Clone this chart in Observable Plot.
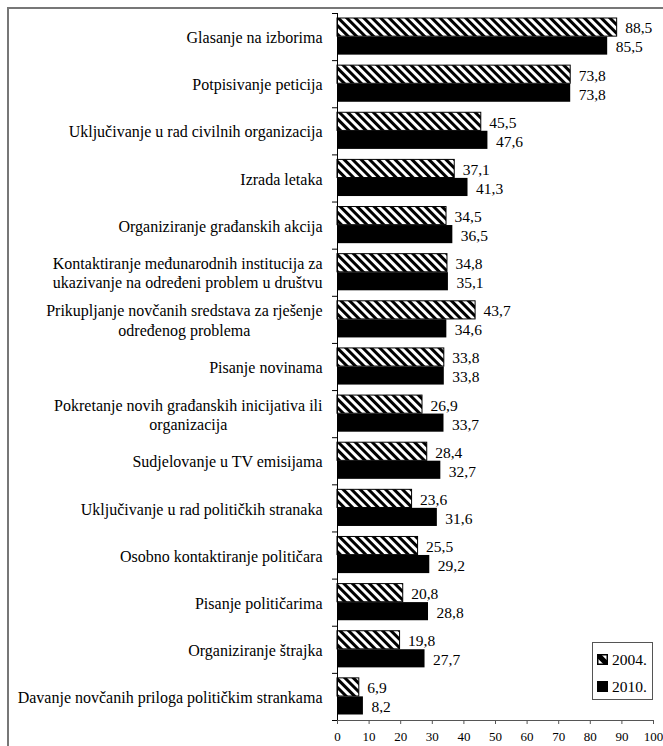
<!DOCTYPE html>
<html><head><meta charset="utf-8">
<script src="https://cdn.jsdelivr.net/npm/d3@7"></script>
<script src="https://cdn.jsdelivr.net/npm/@observablehq/plot@0.6"></script>
<style>
body{margin:0;background:#fff;font-family:'Liberation Serif';}
#wrap{position:relative;width:663px;height:746px;overflow:hidden;font-family:'Liberation Serif';}
#chart{position:absolute;left:0;top:0;}
#chart text{font-family:'Liberation Serif' !important;}
#frame{position:absolute;left:7px;top:7px;width:800px;height:900px;border-left:2px solid #777;border-top:2px solid #777;pointer-events:none;}
#legend{position:absolute;left:592px;top:642px;}
</style></head>
<body><div id="wrap"><div id="chart"></div><div id="frame"></div><div id="legend"></div></div>
<script>
const categories = [
  "Glasanje na izborima",
  "Potpisivanje peticija",
  "Uključivanje u rad civilnih organizacija",
  "Izrada letaka",
  "Organiziranje građanskih akcija",
  "Kontaktiranje međunarodnih institucija za\nukazivanje na određeni problem u društvu",
  "Prikupljanje novčanih sredstava za rješenje\nodređenog problema",
  "Pisanje novinama",
  "Pokretanje novih građanskih inicijativa ili\norganizacija",
  "Sudjelovanje u TV emisijama",
  "Uključivanje u rad političkih stranaka",
  "Osobno kontaktiranje političara",
  "Pisanje političarima",
  "Organiziranje štrajka",
  "Davanje novčanih priloga političkim strankama"
];
const values2004 = [88.5, 73.8, 45.5, 37.1, 34.5, 34.8, 43.7, 33.8, 26.9, 28.4, 23.6, 25.5, 20.8, 19.8, 6.9];
const values2010 = [85.5, 73.8, 47.6, 41.3, 36.5, 35.1, 34.6, 33.8, 33.7, 32.7, 31.6, 29.2, 28.8, 27.7, 8.2];
const seriesNames = ["2004.", "2010."];
const xTicks = [0, 10, 20, 30, 40, 50, 60, 70, 80, 90, 100];

const rows = categories.map((cat, i) => ({i, cat, v2004: values2004[i], v2010: values2010[i]}));
const fmt = v => v.toFixed(1).replace(".", ",");
const n = categories.length;
const FONT = "Liberation Serif";

const defs = () => {
  const d = d3.create("svg:defs");
  const p = d.append("pattern").attr("id", "hatch").attr("patternUnits", "userSpaceOnUse")
    .attr("width", 6).attr("height", 6).attr("patternTransform", "rotate(45)");
  p.append("rect").attr("width", 6).attr("height", 6).attr("fill", "#fff");
  p.append("rect").attr("width", 6).attr("height", 3).attr("fill", "#000");
  return d.node();
};

const chart = Plot.plot({
  width: 663, height: 746,
  marginLeft: 337, marginRight: 10, marginTop: 13, marginBottom: 26,
  style: {fontFamily: FONT, background: "transparent", color: "#000"},
  x: {domain: [0, 100], axis: null, label: null},
  y: {domain: [n, 0], axis: null, label: null},
  marks: [
    defs,
    Plot.rectX(rows, {x1: 0, x2: "v2004", y1: "i", y2: d => d.i + 1, insetTop: 5, insetBottom: 24,
      fill: "url(#hatch)", stroke: "#000", strokeWidth: 1}),
    Plot.rectX(rows, {x1: 0, x2: "v2010", y1: "i", y2: d => d.i + 1, insetTop: 23.5, insetBottom: 5.5, fill: "#000"}),
    Plot.ruleX([0], {stroke: "#000"}),
    Plot.ruleY([n], {stroke: "#555"}),
    Plot.axisY(d3.range(n + 1), {tickSize: 5, fill: "none", stroke: "#000", label: null}),
    Plot.text(rows, {x: "v2004", y: d => d.i + 0.5, text: d => fmt(d.v2004), textAnchor: "start", dx: 8, dy: -8.6, fontSize: 15.5, fontFamily: FONT}),
    Plot.text(rows, {x: "v2010", y: d => d.i + 0.5, text: d => fmt(d.v2010), textAnchor: "start", dx: 8, dy: 10.4, fontSize: 15.5, fontFamily: FONT}),
    Plot.text(rows, {x: 0, y: d => d.i + 0.5, text: "cat", textAnchor: "end", dx: -15, fontSize: 16, lineHeight: 1.2, fontFamily: FONT}),
    Plot.axisX(xTicks, {tickSize: 4, tickPadding: 7, fontSize: 13, stroke: "#555", fontFamily: FONT, label: null})
  ]
});
document.getElementById("chart").append(chart);

// center lines of multi-line labels within their right-aligned block
d3.select(chart).selectAll("text").each(function() {
  const spans = this.querySelectorAll("tspan");
  if (spans.length < 2) return;
  const w = d3.max(Array.from(spans), s => s.getComputedTextLength());
  this.setAttribute("text-anchor", "middle");
  spans.forEach(s => s.setAttribute("x", -w / 2));
});

// legend
const lg = d3.select("#legend").append("svg").attr("width", 62).attr("height", 59)
  .attr("font-family", FONT);
lg.append("rect").attr("x", 0.5).attr("y", 0.5).attr("width", 60).attr("height", 57)
  .attr("fill", "#fff").attr("stroke", "#555");
const items = lg.selectAll("g").data(seriesNames).join("g")
  .attr("transform", (d, k) => `translate(5,${12 + k * 27})`);
items.each(function(d, k) {
  const g = d3.select(this);
  if (k === 0) {
    g.append("rect").attr("x", 0.75).attr("y", 0.75).attr("width", 9.5).attr("height", 9.5)
      .attr("fill", "#fff").attr("stroke", "#000").attr("stroke-width", 1.5);
    g.append("polygon").attr("points", "0.75,0.75 4.5,0.75 10.25,6.5 10.25,10.25 6.5,10.25 0.75,4.5").attr("fill", "#000");
  } else {
    g.append("rect").attr("width", 11).attr("height", 11).attr("fill", "#000");
  }
  g.append("text").attr("x", 15).attr("y", 10.5).attr("font-size", 15.5).attr("fill", "#000").attr("font-family", FONT).text(d);
});
</script>
</body></html>
